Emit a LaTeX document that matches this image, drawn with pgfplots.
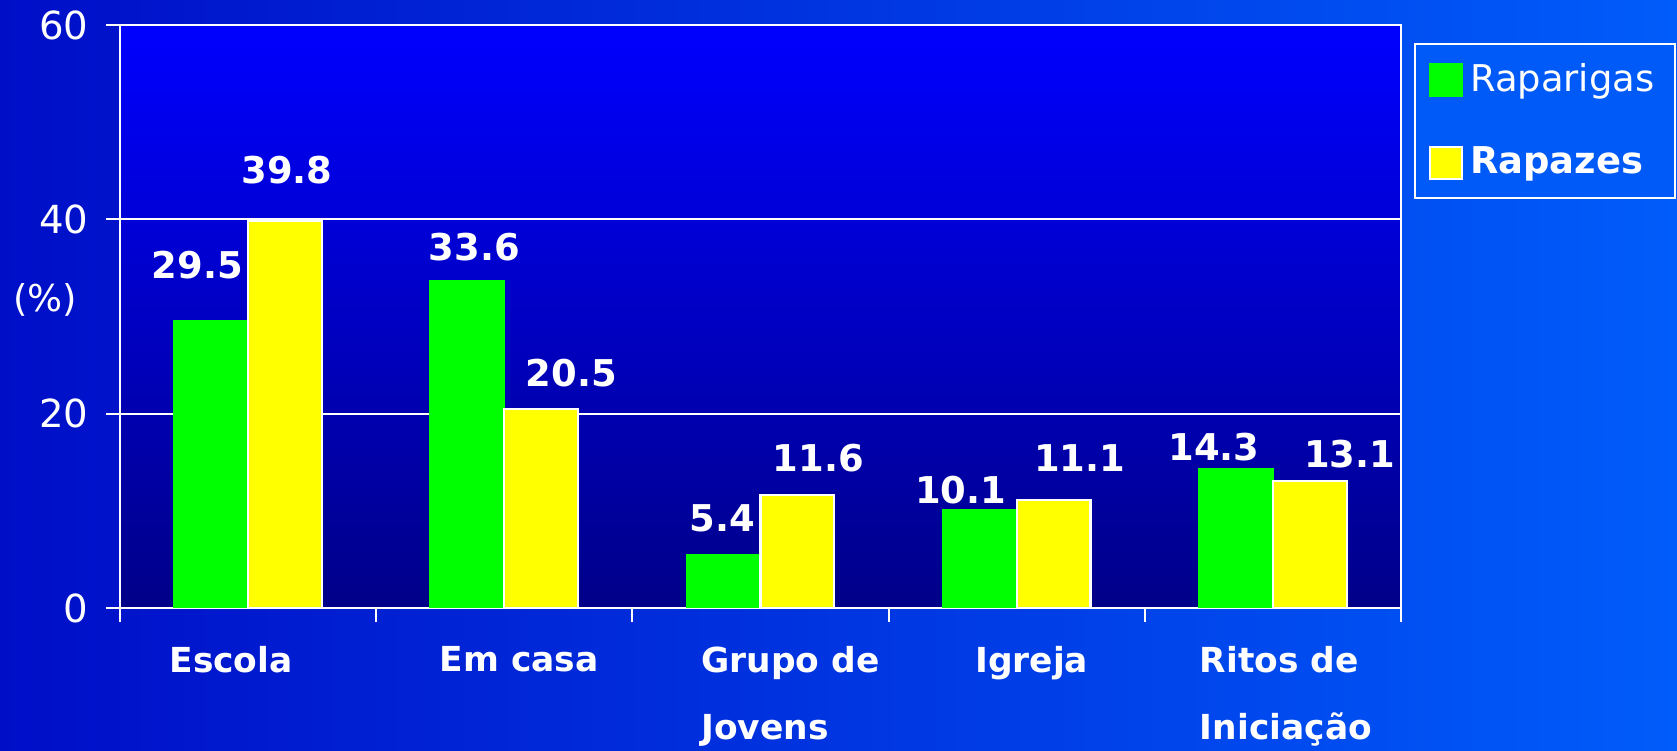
\documentclass[border=0pt]{standalone}
\usepackage{pgfplots}
\pgfplotsset{compat=1.18}
\usepackage{pgfplotstable}
\usepackage{fontspec}
\setmainfont{DejaVu Sans}
\definecolor{bgleft}{RGB}{0,14,200}
\definecolor{bgright}{RGB}{0,92,250}
\definecolor{legbg}{RGB}{0,90,248}
\definecolor{plottop}{RGB}{0,0,255}
\definecolor{plotbot}{RGB}{0,0,136}
\definecolor{cgirls}{RGB}{0,255,0}
\definecolor{cboys}{RGB}{255,255,0}

% x y label-shift-x label-shift-y (shifts in 0.01cm)
\pgfplotstableread{
x y dx dy
0 29.5 -14 56
1 33.6 7 34
2 5.4 -1 37
3 10.1 -19 20
4 14.3 -22 22
}\tabGirls
\pgfplotstableread{
x y dx dy
0 39.8 2 51
1 20.5 30 36
2 11.6 21 37
3 11.1 26 42
4 13.1 40 27
}\tabBoys

\begin{document}
\begin{tikzpicture}[font=\fontsize{10.5}{12.6}\selectfont]
\fill[left color=bgleft, right color=bgright] (-1.2,-1.43) rectangle (15.57,6.08);
\begin{axis}[
    at={(0,0)}, anchor=south west,
    scale only axis,
    width=12.81cm, height=5.83cm,
    axis background/.style={top color=plottop, bottom color=plotbot},
    axis line style={white, line width=0.6pt},
    ybar=0pt,
    bar width=0.288,
    xmin=-0.5, xmax=4.5,
    ymin=0, ymax=60,
    ytick={0,20,40,60},
    xtick={-0.5,0.5,1.5,2.5,3.5,4.5},
    x tick label as interval,
    xticklabels={\hspace*{-0.34cm}Escola,\hspace*{0.3cm}Em casa,{\hspace*{0.6cm}Grupo de\\\hspace*{0.6cm}Jovens},\hspace*{0.3cm}Igreja,{\hspace*{0.26cm}Ritos de\\\hspace*{0.26cm}Iniciação}},
    xticklabel style={align=left, text=white, font=\fontsize{9.8}{19}\selectfont\bfseries, yshift=-0.12cm},
    yticklabel style={text=white, xshift=-0.05cm, font=\fontsize{11}{13}\selectfont},
    /pgf/number format/assume math mode=true,
    tick pos=left,
    tick align=outside,
    major tick length=0.14cm,
    tick style={white, line width=0.6pt},
    ymajorgrids,
    major grid style={white, line width=0.6pt},
    ylabel={(\%)},
    ylabel style={rotate=-90, at={(axis description cs:-0.0585,0.528)}, anchor=center, text=white},
    nodes near coords,
    point meta=explicit,
    visualization depends on={\thisrow{dx} \as \dx},
    visualization depends on={\thisrow{dy} \as \dy},
    every node near coord/.append style={anchor=center, text=white, font=\fontsize{10.5}{12.6}\selectfont\bfseries,
        xshift=\dx*0.01cm, yshift=\dy*0.01cm,
        /pgf/number format/fixed, /pgf/number format/fixed zerofill, /pgf/number format/precision=1,
        /pgf/number format/assume math mode=true},
    legend style={at={(rel axis cs:1.0101,0.969)}, anchor=north west, fill=legbg, draw=white,
        line width=0.6pt, text=white, row sep=0.36cm, inner xsep=0.14cm, inner ysep=0.12cm},
    legend cell align=left,
    legend image code/.code={\draw[#1] (0cm,-0.16cm) rectangle (0.32cm,0.16cm);},
]
\addplot[fill=cgirls, draw=cgirls, line width=0.6pt] table[x=x, y=y, meta=y] {\tabGirls};
\addlegendentry{Raparigas}
\addplot[fill=cboys, draw=white, line width=0.6pt] table[x=x, y=y, meta=y] {\tabBoys};
\addlegendentry{\textbf{Rapazes}}
\end{axis}
\pgfresetboundingbox
\path[use as bounding box] (-1.2,-1.43) rectangle (15.57,6.08);
\end{tikzpicture}
\end{document}
